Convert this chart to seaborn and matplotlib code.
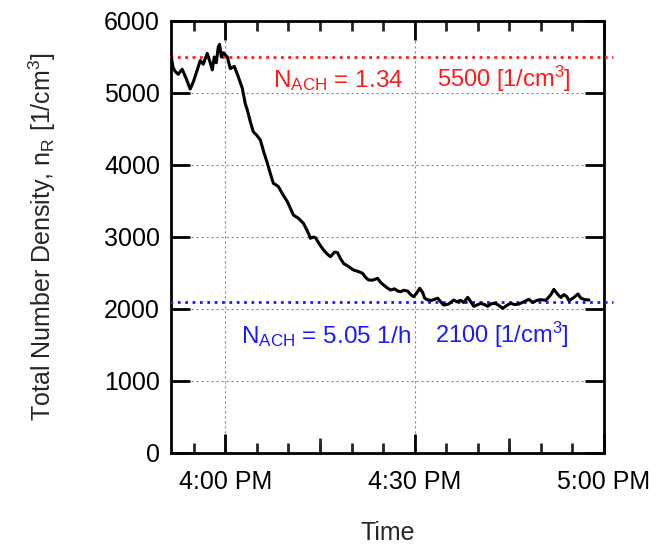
import matplotlib
matplotlib.use("Agg")
import matplotlib.pyplot as plt
import seaborn as sns
import pandas as pd
from matplotlib.ticker import MultipleLocator

# minutes relative to 4:00 PM
minutes = [-8.57, -8.25, -7.94, -7.46, -6.83, -6.19, -5.56, -5.08, -4.44, -3.97,
           -3.49, -2.86, -2.38, -2.06, -1.75, -1.43, -1.11, -0.90, -0.63, -0.32,
           0.32, 0.79, 1.43, 2.06, 2.70, 3.17, 3.49, 3.97, 4.44, 4.92,
           5.56, 6.03, 6.67, 7.14, 7.62, 8.10, 8.41, 9.05, 9.84, 10.79,
           11.59, 12.38, 13.02, 13.49, 13.97, 14.29, 14.92, 15.56, 16.19, 16.67,
           17.30, 17.78, 18.25, 18.73, 19.52, 20.32, 21.11, 21.75, 22.22, 22.70,
           23.33, 24.13, 24.60, 25.08, 25.71, 26.19, 26.83, 27.30, 27.78, 28.25,
           28.89, 29.37, 29.84, 30.32, 30.79, 31.27, 31.59, 32.06, 32.70, 33.65,
           34.13, 34.60, 35.40, 36.19, 36.67, 37.30, 37.78, 38.41, 38.89, 39.37,
           40.00, 40.48, 41.11, 41.59, 42.06, 42.70, 43.17, 43.97, 44.60, 45.24,
           45.87, 46.51, 47.30, 48.10, 48.73, 49.37, 50.00, 50.79, 51.59, 52.06,
           52.70, 53.17, 53.65, 54.13, 54.44, 55.08, 55.87, 56.35, 56.98, 57.62]
density = [5500, 5350, 5300, 5260, 5330, 5200, 5055, 5150, 5320, 5450,
           5400, 5550, 5420, 5320, 5500, 5420, 5640, 5676, 5500, 5560,
           5500, 5340, 5370, 5226, 5065, 4850, 4764, 4600, 4462, 4420,
           4347, 4200, 4023, 3880, 3745, 3720, 3700, 3600, 3490, 3305,
           3260, 3190, 3080, 2982, 3000, 2990, 2900, 2820, 2760, 2726,
           2790, 2782, 2700, 2634, 2590, 2541, 2520, 2495, 2440, 2403,
           2400, 2426, 2370, 2333, 2290, 2264, 2280, 2250, 2240, 2260,
           2250, 2200, 2171, 2220, 2287, 2230, 2150, 2125, 2120, 2150,
           2100, 2055, 2070, 2125, 2100, 2120, 2090, 2162, 2100, 2037,
           2060, 2080, 2060, 2037, 2070, 2080, 2060, 2009, 2050, 2080,
           2060, 2070, 2100, 2134, 2090, 2120, 2130, 2120, 2200, 2273,
           2200, 2160, 2200, 2170, 2116, 2150, 2208, 2150, 2130, 2125]

x_ticks = [0, 30, 60]
x_ticklabels = ["4:00 PM", "4:30 PM", "5:00 PM"]
x_mid_ticks = [15, 45]
y_ticks = [0, 1000, 2000, 3000, 4000, 5000, 6000]

high_level = 5500
low_level = 2100
high_texts = ["N$_{\\mathregular{ACH}}$ = 1.34", "5500 [1/cm$^{\\mathregular{3}}$]"]
low_texts = ["N$_{\\mathregular{ACH}}$ = 5.05 1/h", "2100 [1/cm$^{\\mathregular{3}}$]"]

sns.set_style("ticks")
plt.rcParams['font.family'] = ['Liberation Sans', 'DejaVu Sans']
plt.rcParams['mathtext.fontset'] = 'custom'
plt.rcParams['mathtext.rm'] = 'Liberation Sans'
plt.rcParams['mathtext.it'] = 'Liberation Sans'
plt.rcParams['mathtext.default'] = 'regular'

df = pd.DataFrame({"minutes": minutes, "density": density})

fig = plt.figure(figsize=(6.55, 5.48), dpi=100)
ax = fig.add_axes([171/655, 1-453/548, (604-171)/655, (453-21)/548])

ax.grid(True, which='major', color='#888888', linestyle=(0, (2, 2.5)), linewidth=0.8)
ax.set_axisbelow(True)

ax.axhline(high_level, xmin=-0.003, xmax=1.02, color='#ff1a1a', linestyle=':', linewidth=2, clip_on=False, zorder=3)
ax.axhline(low_level, xmin=-0.003, xmax=1.02, color='#1a1aff', linestyle=':', linewidth=2, clip_on=False, zorder=3)

sns.lineplot(data=df, x="minutes", y="density", ax=ax, color='black', linewidth=2.2, zorder=4)

ax.set_xlim(-8.6, 60)
ax.set_ylim(0, 6000)
ax.set_xticks(x_ticks)
ax.set_xticklabels(x_ticklabels)
ax.xaxis.set_minor_locator(MultipleLocator(5))
ax.set_yticks(y_ticks)

for s in ax.spines.values():
    s.set_linewidth(2)
    s.set_color('black')
    s.set_visible(True)

ax.tick_params(axis='both', which='major', direction='in', length=14, width=2,
               top=True, right=True, labelsize=18, colors='black', pad=8)
ax.tick_params(axis='x', which='minor', direction='in', length=7, width=2,
               top=True, bottom=True)
ax.tick_params(axis='x', which='major', pad=12)

# medium-length ticks at quarter hours on the bottom axis
sec = ax.secondary_xaxis('bottom')
sec.set_xticks(x_mid_ticks)
sec.set_xticklabels([])
sec.tick_params(direction='in', length=11, width=2)
sec.spines['bottom'].set_visible(False)

ax.set_xlabel("Time", fontsize=18, labelpad=20)
ax.set_ylabel("Total Number Density, n$_{\\mathregular{R}}$ [1/cm$^{\\mathregular{3}}$]", fontsize=18, labelpad=33)

ax.text(7.6, 5083, high_texts[0], color='#ff1a1a', fontsize=17.5, va='baseline', ha='left')
ax.text(33.5, 5083, high_texts[1], color='#ff1a1a', fontsize=17, va='baseline', ha='left')
ax.text(2.5, 1528, low_texts[0], color='#1a1aff', fontsize=17.5, va='baseline', ha='left')
ax.text(33.2, 1528, low_texts[1], color='#1a1aff', fontsize=17, va='baseline', ha='left')

fig.savefig("out.png", dpi=100)
